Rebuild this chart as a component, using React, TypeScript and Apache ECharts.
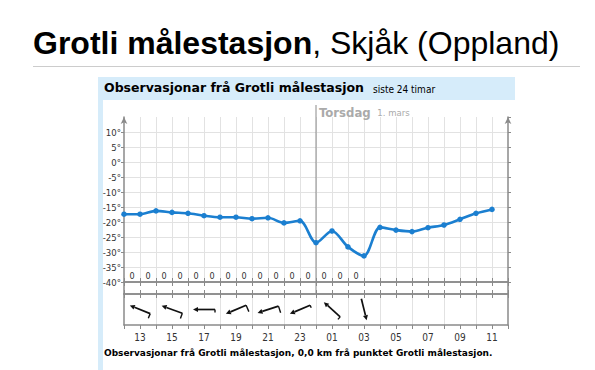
import React, { useEffect, useRef } from 'react';
import * as echarts from 'echarts';

// hours counted from midnight of the first day (12 = 12:00, 24 = 00:00 Torsdag)
const hours = [12, 13, 14, 15, 16, 17, 18, 19, 20, 21, 22, 23, 24, 25, 26, 27, 28, 29, 30, 31, 32, 33, 34, 35];
const temperature = [-17.4, -17.4, -16.3, -16.8, -17.1, -17.9, -18.4, -18.4, -18.9, -18.6, -20.3, -19.6, -26.9, -23.0, -28.3, -31.3, -21.8, -22.7, -23.2, -21.9, -21.0, -19.1, -17.1, -15.8];
const precipHours = [12, 13, 14, 15, 16, 17, 18, 19, 20, 21, 22, 23, 24, 25, 26];
const precipitation = [0, 0, 0, 0, 0, 0, 0, 0, 0, 0, 0, 0, 0, 0, 0];
const windHours = [13, 15, 17, 19, 21, 23, 25, 27];
const windFrom = [112, 110, 90, 67, 72, 67, 132, 346];
const windSpeed = [3.6, 4, 2.2, 5, 5, 2, 2.4, 0];
const dayBreak = [24];
const dayName = 'Torsdag';
const dayDate = '1. mars';
const titleMain = 'Grotli målestasjon';
const titleRest = ', Skjåk (Oppland)';
const panelTitle = 'Observasjonar frå Grotli målestasjon';
const panelSub = 'siste 24 timar';
const footer = 'Observasjonar frå Grotli målestasjon, 0,0 km frå punktet Grotli målestasjon.';

const X_MIN = 12;
const X_MAX = 36;
const AXIS = '#8a8a8a';
const GRID = '#e2e2e2';
const BLUE = '#1b7fd0';
const SMALL_FONT = '"DejaVu Sans Condensed", "DejaVu Sans", sans-serif';
const WIDE_FONT = '"DejaVu Sans", sans-serif';
const ARIAL = '"Liberation Sans", Arial, sans-serif';

export default function App() {
  const ref = useRef<HTMLDivElement>(null);
  useEffect(() => {
    if (!ref.current) return;
    const chart = echarts.init(ref.current, undefined, { renderer: 'svg' });
    const baseX = (gridIndex: number, extra: any) => ({
      type: 'value', gridIndex, min: X_MIN, max: X_MAX, interval: 1,
      axisLine: { show: true, onZero: false, lineStyle: { color: AXIS, width: 1.5 } },
      axisTick: { show: true, inside: true, length: 4, lineStyle: { color: AXIS, width: 1 } },
      axisLabel: { show: false },
      splitLine: { show: false },
      ...extra,
    });
    const borderY = (gridIndex: number, position: string) => ({
      type: 'value', gridIndex, position, min: 0, max: 1,
      axisLine: { show: true, onZero: false, lineStyle: { color: AXIS, width: 1.5 } },
      axisTick: { show: false }, axisLabel: { show: false }, splitLine: { show: false },
    });
    const option: any = {
      animation: false,
      backgroundColor: '#ffffff',
      graphic: [
        {
          type: 'text', left: 33, top: 27,
          style: {
            text: `{b|${titleMain}}{r|${titleRest}}`,
            rich: {
              b: { fontFamily: ARIAL, fontWeight: 'bold', fontSize: 32, fill: '#000' },
              r: { fontFamily: ARIAL, fontSize: 32, fill: '#000' },
            },
          },
        },
        { type: 'line', shape: { x1: 33, y1: 66.5, x2: 580, y2: 66.5 }, style: { stroke: '#cccccc', lineWidth: 1 } },
        { type: 'rect', shape: { x: 98, y: 77, width: 417, height: 23 }, style: { fill: '#d6ecfa' } },
        { type: 'rect', shape: { x: 98, y: 100, width: 5, height: 270 }, style: { fill: '#d6ecfa' } },
        {
          type: 'text', left: 104, top: 81,
          style: { text: panelTitle, fontFamily: WIDE_FONT, fontWeight: 'bold', fontSize: 12.5, fill: '#000' },
        },
        {
          type: 'text', left: 373, top: 84,
          style: { text: panelSub, fontFamily: SMALL_FONT, fontSize: 10, fill: '#000' },
        },
        {
          type: 'text', left: 104, top: 348,
          style: { text: footer, fontFamily: WIDE_FONT, fontWeight: 'bold', fontSize: 9, fill: '#000' },
        },
      ],
      grid: [
        { left: 124, top: 117, width: 384, height: 165 },
        { left: 124, top: 282, width: 384, height: 12 },
        { left: 124, top: 294, width: 384, height: 31 },
      ],
      xAxis: [
        baseX(0, { position: 'bottom', splitLine: { show: true, showMinLine: false, showMaxLine: false, lineStyle: { color: GRID, width: 1 } } }),
        baseX(1, { position: 'top' }),
        baseX(1, { position: 'bottom' }),
        baseX(2, { position: 'top' }),
        baseX(2, {
          position: 'bottom',
          axisTick: { show: true, inside: false, length: 4, lineStyle: { color: AXIS, width: 1 } },
          axisLabel: {
            show: true, margin: 7, fontSize: 10, color: '#333', fontFamily: SMALL_FONT,
            formatter: (v: number) => (v % 2 === 1 ? String(v % 24).padStart(2, '0') : ''),
          },
        }),
        {
          type: 'value', gridIndex: 2, position: 'bottom', min: X_MIN, max: X_MAX, interval: 2,
          axisLine: { show: false, onZero: false }, axisTick: { show: false }, axisLabel: { show: false },
          splitLine: { show: true, showMinLine: false, showMaxLine: false, lineStyle: { color: GRID, width: 1 } },
        },
      ],
      yAxis: [
        {
          type: 'value', gridIndex: 0, position: 'left', min: -40, max: 15, interval: 5,
          axisLine: { show: true, onZero: false, symbol: ['none', 'arrow'], symbolSize: [5, 7], lineStyle: { color: AXIS, width: 1.5 } },
          axisTick: { show: true, length: 3, lineStyle: { color: AXIS } },
          axisLabel: { show: true, showMaxLabel: false, margin: 3, fontSize: 9.5, color: '#333', fontFamily: SMALL_FONT, formatter: (v: number) => `${v}°` },
          splitLine: { show: true, showMinLine: false, showMaxLine: false, lineStyle: { color: GRID, width: 1 } },
        },
        {
          type: 'value', gridIndex: 0, position: 'right', min: -40, max: 15, interval: 5,
          axisLine: { show: true, onZero: false, symbol: ['none', 'arrow'], symbolSize: [5, 7], lineStyle: { color: AXIS, width: 1.5 } },
          axisTick: { show: true, length: 3, lineStyle: { color: AXIS } },
          axisLabel: { show: false }, splitLine: { show: false },
        },
        borderY(1, 'left'), borderY(1, 'right'),
        borderY(2, 'left'), borderY(2, 'right'),
      ],
      series: [
        {
          type: 'line', xAxisIndex: 0, yAxisIndex: 0,
          data: hours.map((h, i) => [h, temperature[i]]),
          smooth: 0.3, symbol: 'circle', symbolSize: 5.5, showSymbol: true,
          lineStyle: { color: BLUE, width: 2.6 }, itemStyle: { color: BLUE },
          z: 5,
        },
        {
          type: 'custom', xAxisIndex: 0, yAxisIndex: 0, clip: false,
          data: precipHours.map((h, i) => [h + 0.5, precipitation[i]]),
          renderItem: (_p: any, api: any) => {
            const c = api.coord([api.value(0), -40]);
            return {
              type: 'text', x: c[0], y: c[1] - 6,
              style: { text: String(api.value(1)), fontSize: 9, fontFamily: SMALL_FONT, fill: '#333', align: 'center', verticalAlign: 'middle' },
            };
          },
        },
        {
          type: 'custom', xAxisIndex: 0, yAxisIndex: 0, clip: false, z: 3,
          data: dayBreak.map((h) => [h]),
          renderItem: (_p: any, api: any) => {
            const top = api.coord([api.value(0), 15]);
            const bottom = api.coord([api.value(0), -40]);
            return {
              type: 'group',
              children: [
                { type: 'line', shape: { x1: top[0], y1: top[1] - 12, x2: bottom[0], y2: bottom[1] + 12 }, style: { stroke: '#8a8a8a', lineWidth: 1 } },
                {
                  type: 'text', x: top[0] + 3, y: top[1] - 5,
                  style: {
                    text: `{a|${dayName}}  {b|${dayDate}}`,
                    verticalAlign: 'middle',
                    rich: {
                      a: { fontSize: 13, fontWeight: 'bold', fill: '#aaaaaa', fontFamily: SMALL_FONT },
                      b: { fontSize: 9.5, fill: '#aaaaaa', fontFamily: SMALL_FONT },
                    },
                  },
                },
              ],
            };
          },
        },
        {
          type: 'custom', xAxisIndex: 3, yAxisIndex: 4, clip: false,
          data: windHours.map((h, i) => [h, windFrom[i], windSpeed[i]]),
          renderItem: (_p: any, api: any) => {
            const c = api.coord([api.value(0), 0.5]);
            const to = ((api.value(1) + 180) * Math.PI) / 180;
            const dx = Math.sin(to);
            const dy = -Math.cos(to);
            const L = 22;
            const hx = c[0] + (dx * L) / 2, hy = c[1] + (dy * L) / 2;
            const tx = c[0] - (dx * L) / 2, ty = c[1] - (dy * L) / 2;
            const hl = 5, hw = 2.5;
            const bx = hx - dx * hl, by = hy - dy * hl;
            const px = -dy, py = dx;
            const spd = api.value(2);
            const children: any[] = [
              { type: 'line', shape: { x1: tx, y1: ty, x2: bx, y2: by }, style: { stroke: '#111', lineWidth: 1.7 } },
              { type: 'polygon', shape: { points: [[hx, hy], [bx + px * hw, by + py * hw], [bx - px * hw, by - py * hw]] }, style: { fill: '#111' } },
            ];
            if (spd > 0.5) {
              const bl = spd * 1.4;
              children.push({ type: 'line', shape: { x1: tx, y1: ty, x2: tx + dy * bl, y2: ty - dx * bl }, style: { stroke: '#111', lineWidth: 1.4 } });
            }
            return { type: 'group', children };
          },
        },
      ],
    };
    chart.setOption(option);
    return () => chart.dispose();
  }, []);
  return <div ref={ref} style={{ position: 'absolute', left: 0, top: 0, width: 595, height: 370 }} />;
}
